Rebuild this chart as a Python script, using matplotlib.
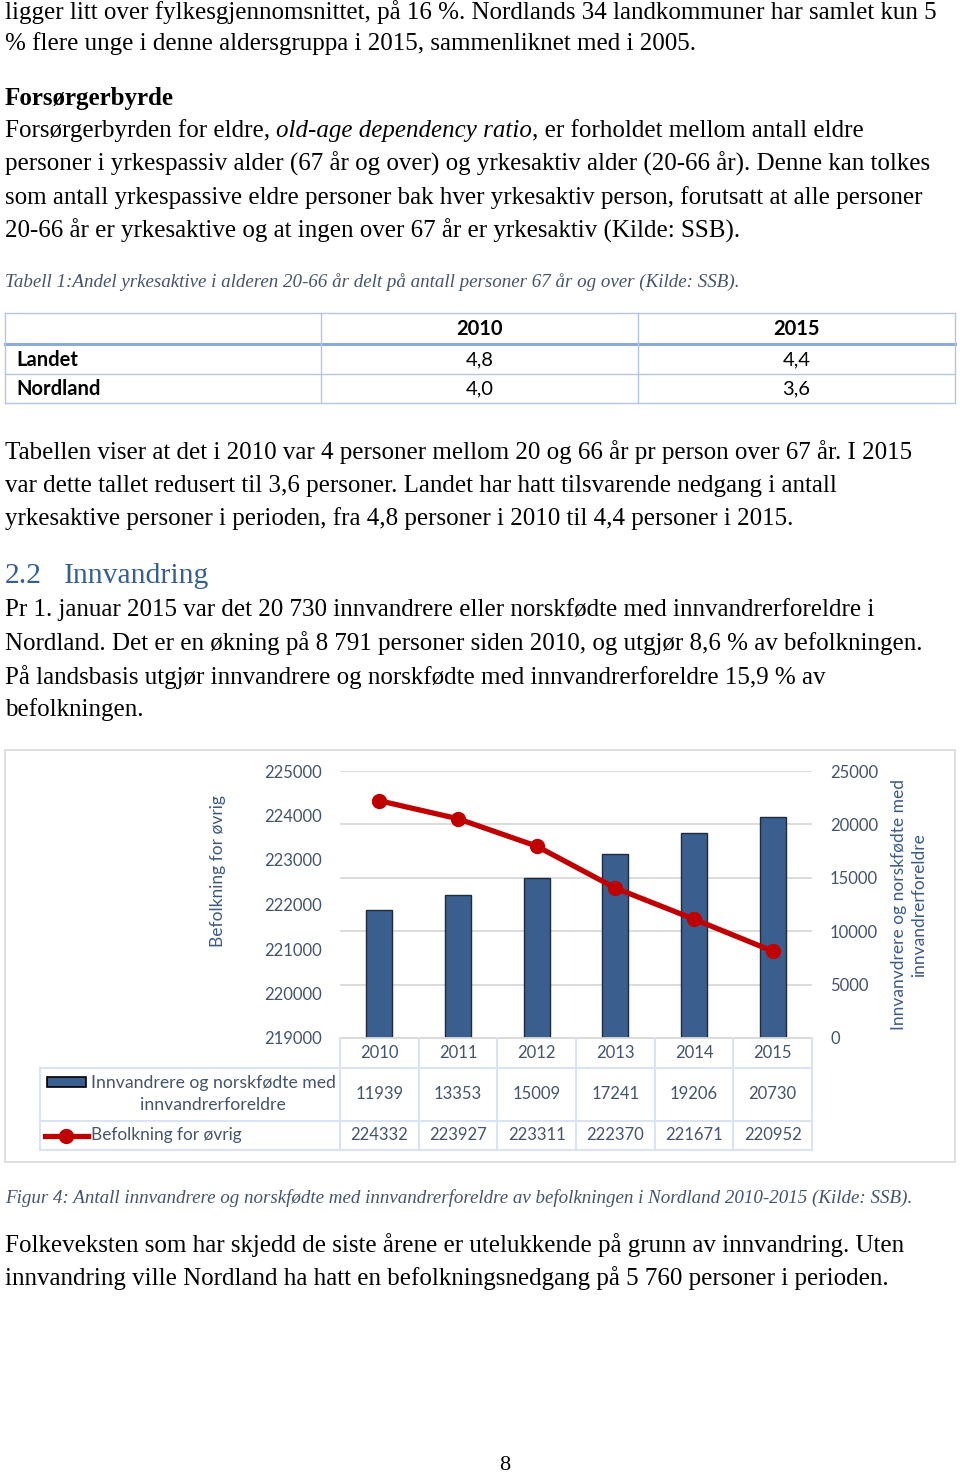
import matplotlib
matplotlib.use("Agg")
import matplotlib.pyplot as plt
import matplotlib.transforms as mtransforms
from matplotlib.lines import Line2D
from matplotlib.patches import Rectangle

W, H = 960, 1475

years = ['2010', '2011', '2012', '2013', '2014', '2015']
innvandrere = [11939, 13353, 15009, 17241, 19206, 20730]
befolkning = [224332, 223927, 223311, 222370, 221671, 220952]

tab_cols = ['2010', '2015']
tab_rows = ['Landet', 'Nordland']
tab_vals = [['4,8', '4,4'], ['4,0', '3,6']]

serif = 'Liberation Serif'
sans = 'Lato'
txt_col = '#44546A'
cap_col = '#44546A'
body_fs = 18

fig = plt.figure(figsize=(W / 100, H / 100), dpi=100)
# pixel coordinates, origin top-left
px = mtransforms.Affine2D().scale(1 / W, -1 / H).translate(0, 1) + fig.transFigure


def T(x, y, s, **kw):
    kw.setdefault('va', 'center')
    kw.setdefault('fontfamily', serif)
    kw.setdefault('fontsize', body_fs)
    return fig.text(x, y, s, transform=px, **kw)


def L(x0, x1, y0, y1, color, lw=1.0, trans=px):
    fig.add_artist(Line2D([x0, x1], [y0, y1], color=color, lw=lw, transform=trans))


# ---- body text above ----
T(5, 12, 'ligger litt over fylkesgjennomsnittet, på 16 %. Nordlands 34 landkommuner har samlet kun 5')
T(5, 44, '% flere unge i denne aldersgruppa i 2015, sammenliknet med i 2005.')
T(5, 98, 'Forsørgerbyrde', fontweight='bold')

# line with an italic phrase in the middle
fig.canvas.draw()
r = fig.canvas.get_renderer()
parts = [('Forsørgerbyrden for eldre, ', 'normal'), ('old-age dependency ratio', 'italic'),
         (', er forholdet mellom antall eldre', 'normal')]
x = 5
for s, st in parts:
    t = T(x, 131, s, style=st)
    x += t.get_window_extent(renderer=r).width

T(5, 164, 'personer i yrkespassiv alder (67 år og over) og yrkesaktiv alder (20-66 år). Denne kan tolkes')
T(5, 198, 'som antall yrkespassive eldre personer bak hver yrkesaktiv person, forutsatt at alle personer')
T(5, 231, '20-66 år er yrkesaktive og at ingen over 67 år er yrkesaktiv (Kilde: SSB).')
T(5, 282, 'Tabell 1:Andel yrkesaktive i alderen 20-66 år delt på antall personer 67 år og over (Kilde: SSB).',
  style='italic', fontsize=13.7, color=cap_col)

# ---- table 1 ----
tb = '#B4C6E7'
xs = [5, 321, 638, 955]
for yy in [313, 374, 403]:
    L(5, 955, yy, yy, tb)
L(5, 955, 344, 344, '#8EAADB', lw=2.2)
for xx in xs:
    L(xx, xx, 313, 403, tb)
for j, c in enumerate(tab_cols):
    T((xs[j + 1] + xs[j + 2]) / 2, 329, c, ha='center', fontfamily=sans, fontweight='bold',
      fontsize=14.5, color='black')
for i, rn in enumerate(tab_rows):
    yy = 360 + 29 * i
    T(16, yy, rn, fontfamily=sans, fontweight='bold', fontsize=14.5, color='black')
    for j in range(2):
        T((xs[j + 1] + xs[j + 2]) / 2, yy, tab_vals[i][j], ha='center', fontfamily=sans,
          fontsize=14.5, color='black')

T(5, 452, 'Tabellen viser at det i 2010 var 4 personer mellom 20 og 66 år pr person over 67 år. I 2015')
T(5, 486, 'var dette tallet redusert til 3,6 personer. Landet har hatt tilsvarende nedgang i antall')
T(5, 519, 'yrkesaktive personer i perioden, fra 4,8 personer i 2010 til 4,4 personer i 2015.')
T(5, 576, '2.2', fontsize=21.4, color='#365F91')
T(64, 576, 'Innvandring', fontsize=21.4, color='#365F91')
T(5, 610, 'Pr 1. januar 2015 var det 20 730 innvandrere eller norskfødte med innvandrerforeldre i')
T(5, 643, 'Nordland. Det er en økning på 8 791 personer siden 2010, og utgjør 8,6 % av befolkningen.')
T(5, 677, 'På landsbasis utgjør innvandrere og norskfødte med innvandrerforeldre 15,9 % av')
T(5, 710, 'befolkningen.')

# ---- chart ----
fig.add_artist(Rectangle((5, 750), 950, 412, transform=px, fill=False, ec='#D9D9D9', lw=1.2))

ax = fig.add_axes([340 / W, 1 - 1038 / H, (812 - 340) / W, (1038 - 771) / H])
ax2 = ax.twinx()
xpos = list(range(len(years)))

ax2.bar(xpos, innvandrere, width=0.33, color='#3A5F8F', edgecolor='#1E2B3C', lw=1, zorder=3)
ax2.set_ylim(0, 25000)
ax2.set_yticks(range(0, 25001, 5000))
ax2.yaxis.grid(True, color='#D9D9D9', lw=1.3, zorder=0)
ax2.set_axisbelow(True)

ax.plot(xpos, befolkning, color='#C00000', lw=3.8, marker='o', ms=10, zorder=5)
ax.set_ylim(219000, 225000)
ax.set_yticks(range(219000, 225001, 1000))
ax.set_xlim(-0.5, 5.5)
ax.set_zorder(ax2.get_zorder() + 1)
ax.patch.set_visible(False)

for a in (ax, ax2):
    for sp in a.spines.values():
        sp.set_visible(False)
    a.tick_params(length=0, labelsize=12, labelcolor=txt_col)
    a.set_xticks([])
    for lab in a.get_yticklabels():
        lab.set_fontfamily(sans)
ax.tick_params(axis='y', pad=13)
ax2.tick_params(axis='y', pad=13)

T(218, 871, 'Befolkning for øvrig', rotation=90, ha='center', fontfamily=sans, fontsize=12.5,
  color='#3A5A85')
T(909, 905, 'Innvanvdrere og norskfødte med\ninnvandrerforeldre', rotation=90, ha='center',
  fontfamily=sans, fontsize=12.5, color='#3A5A85', linespacing=1.35)

# data table under chart
gc = '#DAE3F3'
bt = mtransforms.blended_transform_factory(ax.transData, px)
edges = [i - 0.5 for i in range(len(years) + 1)]
L(340, 812, 1038, 1038, '#D9D9D9', lw=1.3)
for yy in [1068, 1121, 1150]:
    L(40, 812, yy, yy, gc, lw=1.5)
L(40, 40, 1068, 1150, gc, lw=1.5)
for e in edges:
    L(e, e, 1038, 1150, gc, lw=1.5, trans=bt)
for i, yr in enumerate(years):
    fig.text(i, 1053, yr, transform=bt, ha='center', va='center', fontfamily=sans, fontsize=12,
             color=txt_col)
    fig.text(i, 1094, str(innvandrere[i]), transform=bt, ha='center', va='center',
             fontfamily=sans, fontsize=12, color=txt_col)
    fig.text(i, 1135, str(befolkning[i]), transform=bt, ha='center', va='center',
             fontfamily=sans, fontsize=12, color=txt_col)

fig.add_artist(Rectangle((47, 1077), 39, 10, transform=px, fc='#3A5F8F', ec='black', lw=1.2))
T(91, 1083, 'Innvandrere og norskfødte med', fontfamily=sans, fontsize=12.7, color=txt_col)
T(213, 1105, 'innvandrerforeldre', ha='center', fontfamily=sans, fontsize=12.7, color=txt_col)
fig.add_artist(Line2D([45, 88], [1136, 1136], color='#C00000', lw=3.8, transform=px))
fig.add_artist(Line2D([66], [1136], color='#C00000', marker='o', ms=10, transform=px))
T(91, 1135, 'Befolkning for øvrig', fontfamily=sans, fontsize=12.4, color=txt_col)

# ---- below chart ----
T(5, 1198, 'Figur 4: Antall innvandrere og norskfødte med innvandrerforeldre av befolkningen i Nordland 2010-2015 (Kilde: SSB).',
  style='italic', fontsize=13.7, color=cap_col)
T(5, 1245, 'Folkeveksten som har skjedd de siste årene er utelukkende på grunn av innvandring. Uten')
T(5, 1278, 'innvandring ville Nordland ha hatt en befolkningsnedgang på 5 760 personer i perioden.')
T(505, 1466, '8', ha='center', fontsize=16)

fig.savefig('out.png', dpi=100)
